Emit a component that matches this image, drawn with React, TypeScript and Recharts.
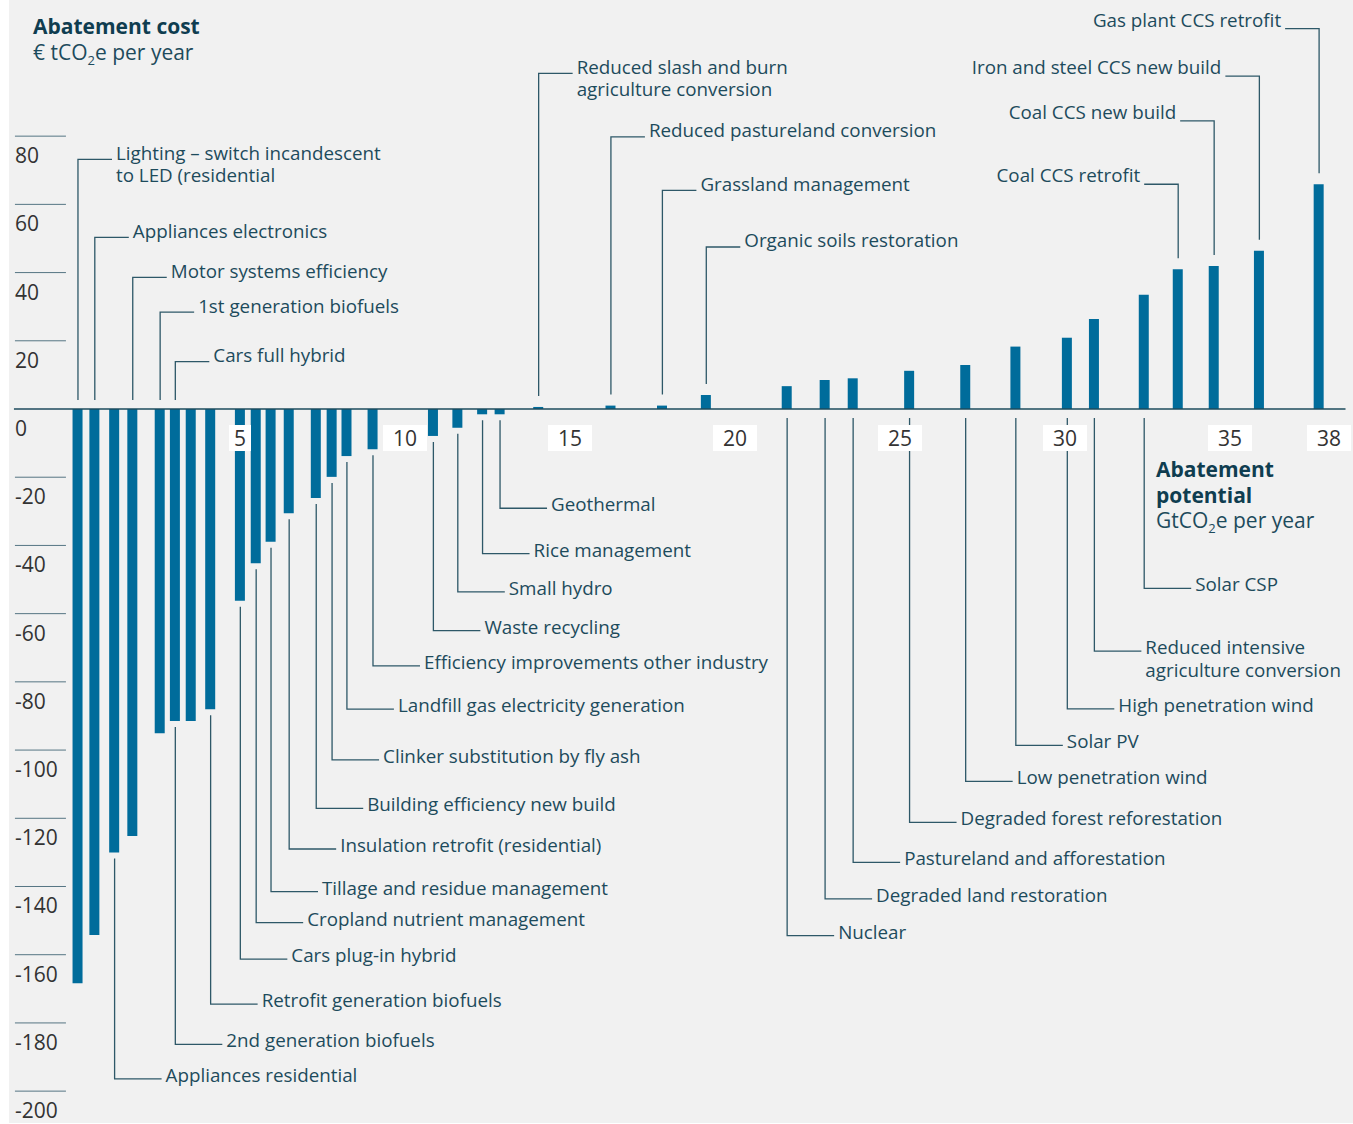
import React from "react"
import { BarChart, Bar, XAxis, YAxis, ReferenceLine, ReferenceDot } from "recharts"

// cumulative abatement potential (GtCO2e per year) at each bar
const potential = [
  0.09, 0.6, 1.2, 1.75, 2.58, 3.04, 3.52, 4.11, 5.01, 5.49, 5.94, 6.49, 7.31, 7.79, 8.24, 9.03,
  10.86, 11.6, 12.35, 12.88, 14.05, 16.24, 17.8, 19.13, 21.58, 22.73, 23.58, 25.29, 26.99, 28.51,
  30.07, 30.89, 32.4, 33.43, 34.52, 35.89, 37.7,
]
// abatement cost (€ per tCO2e)
const cost = [
  -168.4, -154.2, -130, -125.2, -95.1, -91.5, -91.5, -88, -56.2, -45.2, -38.9, -30.6, -26.1, -19.9,
  -13.8, -11.8, -7.9, -5.5, -1.55, -1.55, 0.6, 1.0, 1.0, 4.1, 6.7, 8.5, 9.0, 11.2, 12.9, 18.3, 20.9,
  26.4, 33.5, 41.0, 41.9, 46.4, 65.9,
]

// annotation text, the bar it points at, and the cost level of the label
const labelText = [
  "Lighting – switch incandescent\nto LED (residential",
  "Appliances electronics",
  "Motor systems efficiency",
  "1st generation biofuels",
  "Cars full hybrid",
  "Reduced slash and burn\nagriculture conversion",
  "Reduced pastureland conversion",
  "Grassland management",
  "Organic soils restoration",
  "Coal CCS retrofit",
  "Coal CCS new build",
  "Iron and steel CCS new build",
  "Gas plant CCS retrofit",
  "Appliances residential",
  "2nd generation biofuels",
  "Retrofit generation biofuels",
  "Cars plug-in hybrid",
  "Cropland nutrient management",
  "Tillage and residue management",
  "Insulation retrofit (residential)",
  "Building efficiency new build",
  "Clinker substitution by fly ash",
  "Landfill gas electricity generation",
  "Efficiency improvements other industry",
  "Waste recycling",
  "Small hydro",
  "Rice management",
  "Geothermal",
  "Nuclear",
  "Degraded land restoration",
  "Pastureland and afforestation",
  "Degraded forest reforestation",
  "Low penetration wind",
  "Solar PV",
  "High penetration wind",
  "Reduced intensive\nagriculture conversion",
  "Solar CSP",
]
const labelBar = [
  0, 1, 3, 4, 5, 20, 21, 22, 23, 33, 34, 35, 36,
  2, 5, 7, 8, 9, 10, 11, 12, 13, 14, 15, 16, 17, 18, 19,
  24, 25, 26, 27, 28, 29, 30, 31, 32,
]
const labelLevel = [
  73.2, 50.3, 38.6, 28.4, 13.9, 98.4, 79.8, 64.1, 47.5, 65.9, 84.5, 97.6, 111.5,
  -196.4, -186.3, -174.5, -161.3, -150.6, -141.5, -129.0, -117.1, -102.9, -88.0, -75.3, -65.0,
  -53.6, -42.4, -29.1,
  -154.4, -143.6, -132.9, -121.2, -109.2, -98.6, -87.9, -71.0, -52.6,
]

const xTicks = [5, 10, 15, 20, 25, 30, 35, 38]
const yTicks = [80, 60, 40, 20, 0, -20, -40, -60, -80, -100, -120, -140, -160, -180, -200]

const data = potential.map((x, i) => ({ x, cost: cost[i] }))

const FONT = "'Open Sans', 'Noto Sans', sans-serif"
const BAR = "#006c9b"
const INK = "#1d4b5c"
const LEADER = "#2e5868"

function YTick(props: any) {
  const { x, y, payload } = props
  return (
    <g>
      <line x1={x + 1} x2={x + 52} y1={y} y2={y} stroke="#557583" strokeWidth={1} />
      <text x={x + 1} y={y + 27} fill="#333" fontSize={21} fontFamily={FONT}>
        {payload.value}
      </text>
    </g>
  )
}

function XTickBox({ cx, cy, value }: { cx: number; cy: number; value: number }) {
  const w = String(value).length > 1 ? 44 : 22
  return (
    <g>
      <rect x={cx - w / 2} y={cy + 16} width={w} height={26} fill="#fff" />
      <text x={cx} y={cy + 37} textAnchor="middle" fill="#333" fontSize={21} fontFamily={FONT}>
        {value}
      </text>
    </g>
  )
}

function Leader(props: any) {
  const { x1, y1, y2, lines, up, left, fromZero } = props
  const gap = fromZero ? 9 : up ? 11 : 6
  const ys = up ? y1 - gap : y1 + gap
  const len = up ? 34 : 47
  const xe = left ? x1 - len : x1 + len
  const tx = left ? xe - 4 : xe + 4
  const ty = left ? y2 - 2 : up ? y2 + 0.5 : y2 + 3
  return (
    <g>
      <path d={`M${x1},${ys}V${y2}H${xe}`} fill="none" stroke={LEADER} strokeWidth={1.3} />
      <text x={tx} y={ty} textAnchor={left ? "end" : "start"} fill={INK} fontSize={18.8} fontFamily={FONT}>
        {lines.map((l: string, i: number) => (
          <tspan key={i} x={tx} dy={i === 0 ? 0 : 22.5}>
            {l}
          </tspan>
        ))}
      </text>
    </g>
  )
}

export default function App() {
  return (
    <div style={{ position: "absolute", left: 0, top: 0, width: 1353, height: 1124, background: "#fff" }}>
      <div style={{ position: "absolute", left: 9, top: 0, width: 1344, height: 1123, background: "#f1f1f1" }} />
      <div style={{ position: "absolute", left: 0, top: 0 }}>
        <BarChart width={1353} height={1124} data={data} margin={{ top: 0, right: 7.5, bottom: 12.4, left: 12.95 }}>
          <XAxis type="number" dataKey="x" domain={[-1.85, 38.5]} hide allowDataOverflow />
          <YAxis
            type="number"
            domain={[-206, 119.92]}
            ticks={yTicks}
            interval={0}
            width={1}
            tickSize={0}
            tickMargin={0}
            axisLine={false}
            tickLine={false}
            tick={(p: any) => <YTick {...p} />}
            allowDataOverflow
          />
          <Bar dataKey="cost" fill={BAR} barSize={10} isAnimationActive={false} />
          <ReferenceLine y={0} stroke="#1d4b5c" strokeWidth={1.5} />
          {labelText.map((t, i) => {
            const b = labelBar[i]
            const up = labelLevel[i] > 0
            const v = cost[b]
            const fromZero = up ? v < 0 : v > 0
            const start = fromZero ? 0 : v
            const left = up && potential[b] > 33
            return (
              <ReferenceLine
                key={t}
                segment={[
                  { x: potential[b], y: start },
                  { x: potential[b], y: labelLevel[i] },
                ]}
                ifOverflow="visible"
                shape={(p: any) => (
                  <Leader {...p} lines={t.split("\n")} up={up} left={left} fromZero={fromZero} />
                )}
              />
            )
          })}
          {xTicks.map((t) => (
            <ReferenceDot
              key={t}
              x={t}
              y={0}
              r={0}
              ifOverflow="visible"
              shape={(p: any) => <XTickBox cx={p.cx} cy={p.cy} value={t} />}
            />
          ))}
        </BarChart>
      </div>
      <svg width={1353} height={1124} style={{ position: "absolute", left: 0, top: 0, pointerEvents: "none" }}>
        <g fontFamily={FONT} fontSize={21}>
          <text x={33} y={34} fontWeight={700} fill="#0f3d50">Abatement cost</text>
          <text x={33} y={60} fill={INK}>
            € tCO<tspan fontSize={13} dy={5}>2</tspan>
            <tspan dy={-5}>e per year</tspan>
          </text>
          <text x={1156} y={477} fontWeight={700} fill="#0f3d50">Abatement</text>
          <text x={1156} y={503} fontWeight={700} fill="#0f3d50">potential</text>
          <text x={1156} y={528} fill={INK}>
            GtCO<tspan fontSize={13} dy={5}>2</tspan>
            <tspan dy={-5}>e per year</tspan>
          </text>
        </g>
      </svg>
    </div>
  )
}
